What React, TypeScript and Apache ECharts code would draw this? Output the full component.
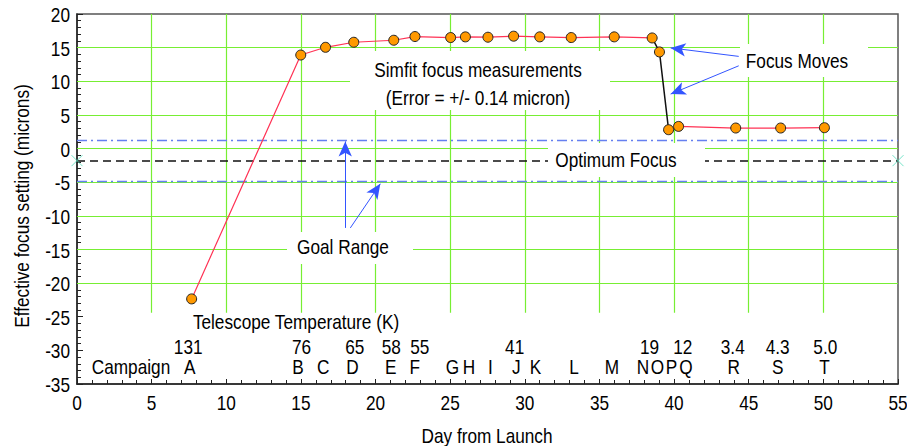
import React, { useEffect, useRef } from "react";
import * as echarts from "echarts";

// Measurements (day from launch, effective focus in microns)
const days = [7.68, 14.99, 16.65, 18.54, 21.22, 22.64, 25.03, 26.02, 27.53, 29.25, 31.0, 33.11, 35.99, 38.53, 39.02, 39.63, 40.3, 44.13, 47.14, 50.07];
const focus = [-22.35, 13.9, 15.05, 15.8, 16.1, 16.65, 16.5, 16.6, 16.55, 16.7, 16.6, 16.5, 16.6, 16.44, 14.36, 2.8, 3.29, 3.05, 3.05, 3.1];

// Campaigns
const campaignLetters = ["A", "B", "C", "D", "E", "F", "G", "H", "I", "J", "K", "L", "M", "N", "O", "P", "Q", "R", "S", "T"];
const campaignDays = [7.56, 14.81, 16.49, 18.45, 21.02, 22.62, 25.15, 26.26, 27.69, 29.43, 30.72, 33.29, 35.83, 37.92, 38.89, 39.83, 40.8, 44.0, 46.94, 50.07];

// Telescope temperatures (K)
const tempLabels = ["131", "76", "65", "58", "55", "41", "19", "12", "3.4", "4.3", "5.0"];
const tempDays = [7.45, 15.04, 18.61, 21.06, 22.96, 29.32, 38.35, 40.58, 43.93, 46.94, 50.13];

// Reference levels (microns)
const optimumFocus = -1.8;
const goalRange = [1.2, -4.8];

// Axis ticks
const xTicks = [0, 5, 10, 15, 20, 25, 30, 35, 40, 45, 50, 55];
const yTicks = [-35, -30, -25, -20, -15, -10, -5, 0, 5, 10, 15, 20];
const gridXs = [5, 10, 15, 20, 25, 30, 35, 40, 45, 50];
const gridYs = [-20, -15, -10, -5, 0, 5, 10, 15];

const X_MIN = 0, X_MAX = 55, Y_MIN = -35, Y_MAX = 20;
const TEMP_ROW_Y = -29.45;
const LETTER_ROW_Y = -32.43;
const GRID_BOTTOM_Y = -24.4;

const FONT = "'Liberation Sans', Arial, sans-serif";
const NARROW = 0.82;
const GREEN = "#77ee33";
const BLUE = "#3355ff";

export default function App() {
  const ref = useRef<HTMLDivElement>(null);
  useEffect(() => {
    document.body.style.margin = "0";
    document.body.style.overflow = "hidden";
    document.documentElement.style.overflow = "hidden";
    if (!ref.current) return;
    const chart = echarts.init(ref.current, undefined, { renderer: "svg", width: 907, height: 446 });
    const pts = days.map((d, i) => [d, focus[i]]);
    const seg1 = pts.slice(0, 14);
    const segBlack = pts.slice(13, 16);
    const seg2 = pts.slice(15);

    const whiteRect = (x1: number, y1: number, x2: number, y2: number) => ({
      type: "rect",
      z: 6,
      silent: true,
      shape: { x: x1, y: y1, width: x2 - x1, height: y2 - y1 },
      style: { fill: "#ffffff" },
    });
    const txt = (text: string, x: number, y: number, rotation = 0) => ({
      type: "text",
      z: 10,
      silent: true,
      x,
      y,
      rotation,
      scaleX: NARROW,
      style: { text, fontSize: 21, fontFamily: FONT, fill: "#000", align: "center", verticalAlign: "middle" },
    });

    const textItem = (text: string, x: number, y: number, align: string) => ({
      type: "text",
      x,
      y,
      scaleX: NARROW,
      style: { text, fontSize: 21, fontFamily: FONT, fill: "#000", align, verticalAlign: "middle" },
    });

    const labelRow = (labels: string[], xs: number[], rowY: number) => ({
      type: "custom",
      z: 10,
      silent: true,
      clip: false,
      data: xs.map((d) => [d, rowY]),
      renderItem: (params: any, api: any) => {
        const p = api.coord([api.value(0), api.value(1)]);
        return textItem(labels[params.dataIndex], p[0], p[1], "center");
      },
    });

    const xTickLabels = {
      type: "custom",
      z: 10,
      silent: true,
      clip: false,
      data: xTicks.map((v) => [v, Y_MIN]),
      renderItem: (params: any, api: any) => {
        const p = api.coord([api.value(0), api.value(1)]);
        return textItem(String(xTicks[params.dataIndex]), p[0], p[1] + 18.5, "center");
      },
    };
    const yTickLabels = {
      type: "custom",
      z: 10,
      silent: true,
      clip: false,
      data: yTicks.map((v) => [X_MIN, v]),
      renderItem: (params: any, api: any) => {
        const p = api.coord([api.value(0), api.value(1)]);
        return textItem(String(yTicks[params.dataIndex]), p[0] - 7, p[1] + 1, "right");
      },
    };

    const option: any = {
      animation: false,
      backgroundColor: "#ffffff",
      grid: {
        left: 77, right: 9, top: 14, bottom: 62,
        containLabel: false, outerBoundsMode: "none",
        show: true, borderColor: "#555", borderWidth: 1.5, backgroundColor: "transparent",
      },
      xAxis: {
        type: "value",
        min: X_MIN,
        max: X_MAX,
        interval: 5,
        axisLine: { show: true, onZero: false, lineStyle: { color: "#222", width: 1.5 } },
        axisTick: { show: true, inside: true, length: 5, lineStyle: { color: "#222" } },
        minorTick: { show: true, splitNumber: 5, length: 4, lineStyle: { color: "#222" } },
        axisLabel: { show: false },
        splitLine: { show: false },
      },
      yAxis: {
        type: "value",
        min: Y_MIN,
        max: Y_MAX,
        interval: 5,
        axisLine: { show: true, onZero: false, lineStyle: { color: "#222", width: 1.5 } },
        axisTick: { show: true, inside: true, length: 6, lineStyle: { color: "#222" } },
        minorTick: { show: true, splitNumber: 5, length: 4, lineStyle: { color: "#222" } },
        axisLabel: { show: false },
        splitLine: { show: false },
      },
      graphic: [
        whiteRect(350, 51, 610, 110),
        whiteRect(740, 44, 868, 77),
        whiteRect(548, 143, 705, 177),
        whiteRect(287, 232, 413, 264),
        txt("Simfit focus measurements", 478, 70),
        txt("(Error = +/- 0.14 micron)", 478, 98),
        txt("Focus Moves", 797, 61),
        txt("Optimum Focus", 616, 160),
        txt("Goal Range", 343, 247),
        txt("Telescope Temperature (K)", 296, 322),
        txt("Campaign", 131, 367),
        txt("Day from Launch", 487, 436),
        txt("Effective focus setting (microns)", 22, 206, Math.PI / 2),
      ],
      series: [
        {
          type: "line",
          name: "grid",
          data: [],
          silent: true,
          markLine: {
            silent: true,
            symbol: ["none", "none"],
            label: { show: false },
            lineStyle: { color: GREEN, width: 1.2, type: "solid" },
            emphasis: { disabled: true },
            data: [
              ...gridYs.map((y) => [{ coord: [X_MIN, y] }, { coord: [X_MAX, y] }]),
              ...gridXs.map((x) => [{ coord: [x, Y_MAX] }, { coord: [x, GRID_BOTTOM_Y] }]),
            ],
          },
        },
        {
          type: "line",
          name: "optimum",
          data: [],
          silent: true,
          markLine: {
            silent: true,
            symbol: ["none", "none"],
            label: { show: false },
            lineStyle: { color: "#111", width: 1.5, type: [8, 5] },
            emphasis: { disabled: true },
            data: [[{ coord: [X_MIN, optimumFocus] }, { coord: [X_MAX, optimumFocus] }]],
          },
        },
        {
          type: "line",
          name: "goal",
          data: [],
          silent: true,
          markLine: {
            silent: true,
            symbol: ["none", "none"],
            label: { show: false },
            lineStyle: { color: "#6680f0", width: 1.4, type: [10, 4, 2, 4] },
            emphasis: { disabled: true },
            data: goalRange.map((g) => [{ coord: [X_MIN, g] }, { coord: [X_MAX, g] }]),
          },
        },
        {
          type: "line",
          name: "arrows",
          data: [],
          silent: true,
          markLine: {
            silent: true,
            symbol: ["none", "arrow"],
            symbolSize: [10, 15],
            label: { show: false },
            lineStyle: { color: BLUE, width: 1, type: "solid" },
            emphasis: { disabled: true },
            data: [
              [{ coord: [44.33, 13.7] }, { coord: [39.77, 14.96] }],
              [{ coord: [44.33, 12.3] }, { coord: [39.77, 8.1] }],
              [{ coord: [17.97, -11.8] }, { coord: [17.97, 1.06] }],
              [{ coord: [18.31, -11.8] }, { coord: [20.32, -5.24] }],
            ],
          },
        },
        {
          type: "line",
          z: 7,
          data: seg1,
          showSymbol: false,
          lineStyle: { color: "#ff3355", width: 1.2 },
          silent: true,
        },
        {
          type: "line",
          z: 7,
          data: segBlack,
          showSymbol: false,
          lineStyle: { color: "#111", width: 1.5 },
          silent: true,
        },
        {
          type: "line",
          z: 7,
          data: seg2,
          showSymbol: false,
          lineStyle: { color: "#ff3355", width: 1.2 },
          silent: true,
        },
        {
          type: "scatter",
          z: 8,
          data: pts,
          symbol: "circle",
          symbolSize: 10,
          itemStyle: { color: "#ff9900", borderColor: "#222", borderWidth: 1, opacity: 1 },
          silent: true,
        },
        {
          type: "scatter",
          z: 8,
          clip: false,
          data: [[X_MIN, optimumFocus], [X_MAX, optimumFocus]],
          symbol: "path://M0,0L10,10M10,0L0,10",
          symbolSize: 11,
          itemStyle: { color: "none", borderColor: "#55ddbb", borderWidth: 1 },
          silent: true,
        },
        labelRow(campaignLetters, campaignDays, LETTER_ROW_Y),
        labelRow(tempLabels, tempDays, TEMP_ROW_Y),
        xTickLabels,
        yTickLabels,
      ],
    };
    chart.setOption(option);
    return () => chart.dispose();
  }, []);
  return <div ref={ref} style={{ width: 907, height: 446, overflow: "hidden" }} />;
}
